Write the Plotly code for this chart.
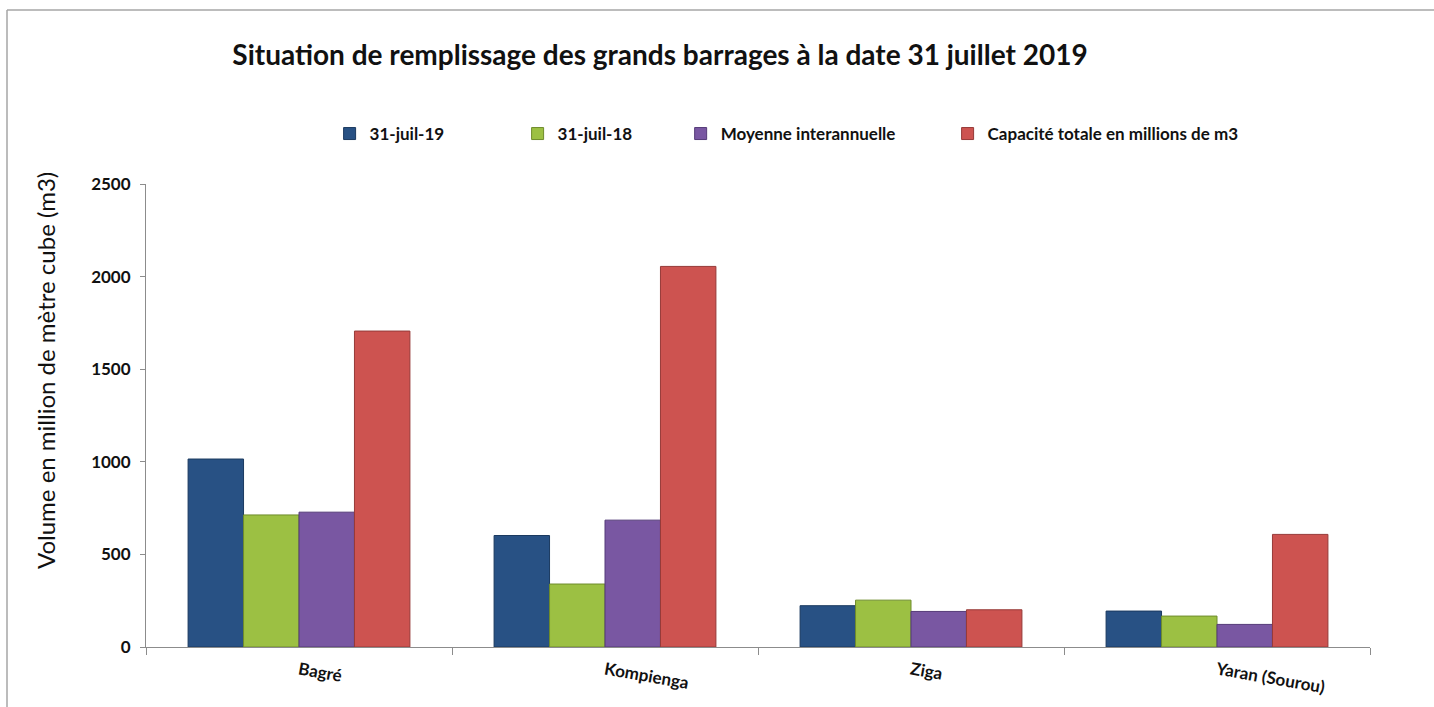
import plotly.graph_objects as go

categories = ["Bagré", "Kompienga", "Ziga", "Yaran (Sourou)"]
series_names = ["31-juil-19", "31-juil-18", "Moyenne interannuelle", "Capacité totale en millions de m3"]
v_2019 = [1015, 602, 223, 194]
v_2018 = [713, 340, 253, 167]
v_moy = [728, 685, 192, 122]
v_cap = [1706, 2055, 201, 608]
y_ticks = [0, 500, 1000, 1500, 2000, 2500]

series_values = [v_2019, v_2018, v_moy, v_cap]
fills = ["#285184", "#9cc043", "#7957a2", "#cd5350"]
edges = ["#1b3a60", "#6f8c2c", "#553b78", "#963a38"]
legend_ids = ["legend", "legend2", "legend3", "legend4"]
legend_x = [0.1500, 0.3036, 0.4368, 0.6549]

FONT = "Lato, 'Open Sans', sans-serif"

fig = go.Figure()
for name, vals, fc, ec, lg in zip(series_names, series_values, fills, edges, legend_ids):
    fig.add_trace(go.Bar(
        x=categories, y=vals, name=name,
        marker=dict(color=fc, line=dict(color=ec, width=1)),
        legend=lg, showlegend=True,
    ))

layout_legends = {}
for lg, lx in zip(legend_ids, legend_x):
    layout_legends[lg] = dict(
        x=lx, xanchor="left", y=1.108, yanchor="middle",
        orientation="h", itemwidth=30, visible=True,
        font=dict(family=FONT, size=17, color="#111111", weight="bold"),
        bgcolor="rgba(0,0,0,0)",
    )

W, H = 1434, 707
L, R, T, B = 146, 64, 184, 60
pw, ph = W - L - R, H - T - B

def px_x(p):
    return (p - L) / pw

def px_y(p):
    return (H - B - p) / ph

annotations = [dict(
    text="Volume en million de mètre cube (m3)", textangle=-90, showarrow=False,
    xref="paper", yref="paper", x=px_x(45), y=px_y(371), xanchor="center", yanchor="middle",
    font=dict(family=FONT, size=24, color="#111111"),
)]

shapes = [
    dict(type="line", xref="paper", yref="paper", x0=px_x(7), x1=px_x(1434), y0=px_y(10), y1=px_y(10),
         line=dict(color="#a6a6a6", width=1.5)),
    dict(type="line", xref="paper", yref="paper", x0=px_x(7), x1=px_x(7), y0=px_y(10), y1=px_y(707),
         line=dict(color="#a6a6a6", width=1.5)),
]

fig.update_layout(
    width=W, height=H, showlegend=True,
    margin=dict(l=L, r=R, t=T, b=B, autoexpand=False),
    paper_bgcolor="white", plot_bgcolor="white",
    barmode="group", bargap=0.275, bargroupgap=0,
    title=dict(text="Situation de remplissage des grands barrages à la date 31 juillet 2019",
               x=660 / W, xref="container", xanchor="center",
               y=1 - 55 / H, yref="container", yanchor="middle",
               font=dict(family=FONT, size=28, color="#111111", weight="bold")),
    annotations=annotations,
    shapes=shapes,
    **layout_legends,
)
fig.update_xaxes(
    showline=True, linecolor="#8c8c8c", linewidth=1,
    ticks="outside", tickson="boundaries", ticklen=7, tickcolor="#8c8c8c",
    tickangle=10, ticklabelstandoff=6,
    tickfont=dict(family=FONT, size=17, color="#111111", weight="bold"),
    showgrid=False, zeroline=False,
)
fig.update_yaxes(
    range=[0, 2500], tickvals=y_ticks,
    showline=True, linecolor="#8c8c8c", linewidth=1,
    ticks="outside", ticklen=5, tickcolor="#8c8c8c", ticklabelstandoff=6,
    showgrid=False, zeroline=False,
    tickfont=dict(family=FONT, size=17, color="#111111", weight="bold"),
)
fig.write_html("out.html", config={"displayModeBar": False},
               post_script="document.body.style.margin='0';document.body.style.overflow='hidden';")
